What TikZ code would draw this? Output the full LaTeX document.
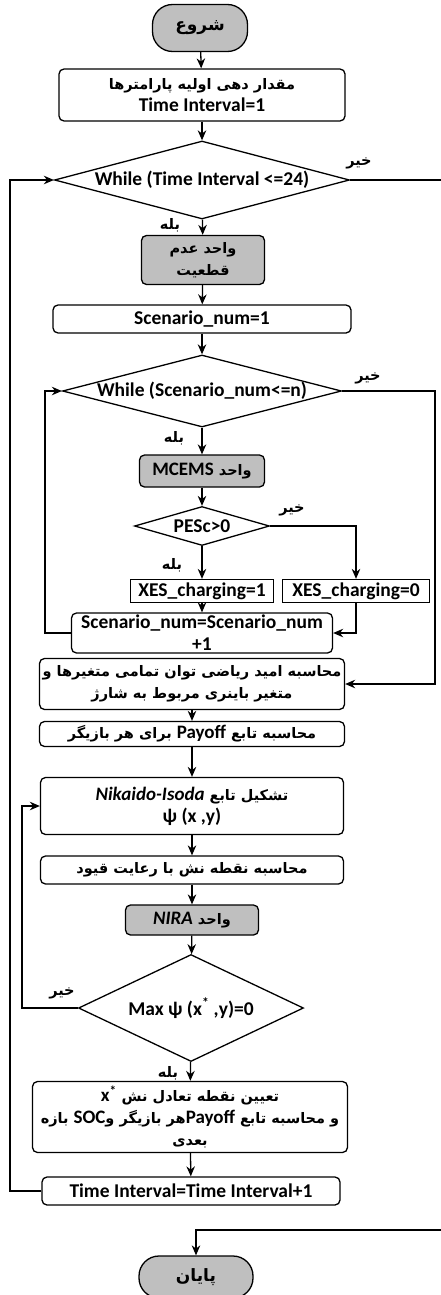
\documentclass[tikz,border=0pt]{standalone}
\usepackage{fontspec}
\setmainfont{Carlito}
\newfontfamily\fa[Script=Arabic]{DejaVu Sans}
\TeXXeTstate=1
\usetikzlibrary{shapes.geometric,arrows.meta}
\definecolor{boxgray}{RGB}{191,191,191}
\newcommand{\fatext}[1]{{\fa\fontsize{14.5}{22}\selectfont\beginR #1\endR}}
\newcommand{\fabig}[1]{{\fa\fontsize{17}{22}\selectfont\beginR #1\endR}}
\newcommand{\entext}[1]{\beginL{\rmfamily\fontsize{19}{22}\selectfont #1}\endL}
\tikzset{
  base/.style={draw, line width=1.3pt, align=center, inner sep=1pt, font=\bfseries\fontsize{19.5}{22}\selectfont},
  proc/.style={base, rounded corners=5pt},
  unit/.style={proc, fill=boxgray},
  plain/.style={base},
  term/.style={base, fill=boxgray, rounded corners=20pt},
  cond/.style={base, diamond, inner sep=0pt},
  yesno/.style={font=\bfseries, inner sep=0pt},
}
\begin{document}
\begin{tikzpicture}[x=1pt, y=-1pt, >={Stealth[length=10pt, width=8.5pt]}, line width=1.3pt]
\useasboundingbox (0,0) rectangle (440,1295);
% نودها
\node[term, minimum width=95pt, minimum height=47pt] (start) at (200,28) {\fabig{شروع}};
\node[proc, minimum width=286pt, minimum height=52pt] (init) at (202,95)
  {\fatext{مقدار دهی اولیه پارامترها}\\Time Interval=1};
\node[cond, minimum width=295pt, minimum height=78pt, aspect=3.8] (d1) at (202,180) {While (Time Interval <=24)};
\node[unit, minimum width=123pt, minimum height=49pt] (unc) at (203,260)
  {\fatext{واحد عدم}\\\fatext{قطعیت}};
\node[proc, minimum width=298pt, minimum height=28pt] (sc1) at (202,319) {Scenario\_num=1};
\node[cond, minimum width=279pt, minimum height=72pt, aspect=3.9] (d2) at (202,391) {While (Scenario\_num<=n)};
\node[unit, minimum width=125pt, minimum height=32pt] (mce) at (202,471) {\fatext{واحد \entext{MCEMS}}};
\node[cond, minimum width=135pt, minimum height=39pt, aspect=3.5] (d3) at (202,526) {PESc>0};
\node[plain, minimum width=143pt, minimum height=23pt] (xes1) at (202,591) {XES\_charging=1};
\node[plain, minimum width=147pt, minimum height=23pt] (xes0) at (356,591) {XES\_charging=0};
\node[proc, minimum width=261pt, minimum height=40pt] (scn) at (202,633) {Scenario\_num=Scenario\_num\\+1};
\node[proc, minimum width=305pt, minimum height=51pt] (exp) at (192,684)
  {\fatext{محاسبه امید ریاضی توان تمامی متغیرها و}\\\fatext{متغیر باینری مربوط به شارژ}};
\node[proc, minimum width=305pt, minimum height=25pt] (pay) at (192,734)
  {\fatext{محاسبه تابع \entext{Payoff} برای هر بازیگر}};
\node[proc, minimum width=303pt, minimum height=57pt] (nik) at (192,806)
  {\fatext{تشکیل تابع \entext{\itshape Nikaido-Isoda}}\\ψ (x ,y)};
\node[proc, minimum width=303pt, minimum height=28pt] (nash) at (192,870)
  {\fatext{محاسبه نقطه نش با رعایت قیود}};
\node[unit, minimum width=133pt, minimum height=30pt] (nira) at (192,920)
  {\fatext{واحد \entext{\itshape NIRA}}};
\node[cond, minimum width=225pt, minimum height=107pt, aspect=2.1] (d4) at (191,1008)
  {\raisebox{-12pt}{Max ψ (x\textsuperscript{*} ,y)=0}};
\node[proc, minimum width=315pt, minimum height=71pt] (eq) at (190,1117)
  {\fatext{تعیین نقطه تعادل نش \entext{x\textsuperscript{*}}}\\
   \fatext{و محاسبه تابع \entext{Payoff}هر بازیگر و\entext{SOC} بازه}\\\fatext{بعدی}};
\node[proc, minimum width=298pt, minimum height=28pt] (ti) at (191,1191) {Time Interval=Time Interval+1};
\node[term, minimum width=114pt, minimum height=42pt] (end) at (196,1277) {\fabig{پایان}};
% نقاط کمکی
\coordinate (outR) at (443,1230);
\coordinate (inR) at (435,684);
\coordinate (inL) at (45,633);
\coordinate (nikL) at (22,1008);
\coordinate (outL) at (10,1191);
% اتصال‌ها
\draw[->] (start) -- (init);
\draw[->] (init) -- (d1);
\draw[->] (d1) -- (unc);
\draw[->] (unc) -- (sc1);
\draw[->] (sc1) -- (d2);
\draw[->] (d2) -- (mce);
\draw[->] (mce) -- (d3);
\draw[->] (d3) -- (xes1);
\draw[->] (d3.east) -| (xes0.north);
\draw[->] (xes1) -- (scn);
\draw[->] (xes0.south) |- (scn.east);
\draw[->] (scn.west) -- (inL) |- (d2.west);
\draw[->] (d2.east) -| (inR) -- (exp.east);
\draw[->] (exp) -- (pay);
\draw[->] (pay) -- (nik);
\draw[->] (nik) -- (nash);
\draw[->] (nash) -- (nira);
\draw[->] (nira) -- (d4);
\draw[->] (d4.west) -- (nikL) |- (nik.west);
\draw[->] (d4) -- (eq);
\draw[->] (eq) -- (ti);
\draw[->] (ti.west) -- (outL) |- (d1.west);
\draw[->] (d1.east) -| (outR) -| (end.north);
% برچسب‌ها
\node[yesno] (y1) at (170,225) {\fatext{بله}};
\node[yesno] (n1) at (359,163) {\fatext{خیر}};
\node[yesno] (y2) at (174,438) {\fatext{بله}};
\node[yesno] (n2) at (368,378) {\fatext{خیر}};
\node[yesno] (y3) at (172,565) {\fatext{بله}};
\node[yesno] (n3) at (292,510) {\fatext{خیر}};
\node[yesno] (y4) at (168,1073) {\fatext{بله}};
\node[yesno] (n4) at (62,993) {\fatext{خیر}};
\end{tikzpicture}
\end{document}
